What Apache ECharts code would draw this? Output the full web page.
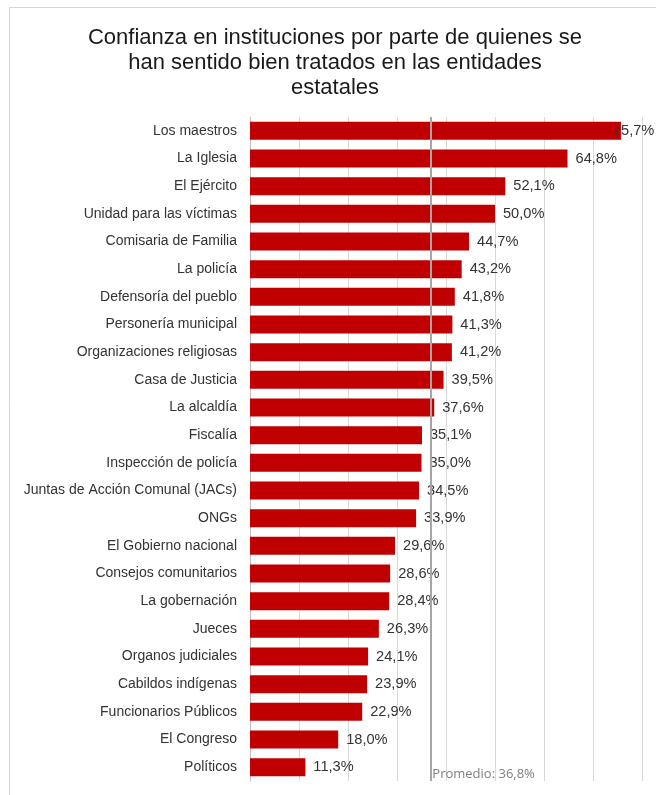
<!DOCTYPE html>
<html>
<head>
<meta charset="utf-8">
<script src="https://cdn.jsdelivr.net/npm/echarts@6/dist/echarts.min.js"></script>
<style>
html,body{margin:0;padding:0;background:#fff;}
#c{width:656px;height:795px;}
</style>
</head>
<body>
<div id="c"></div>
<script>
const titleText = 'Confianza en instituciones por parte de quienes se\nhan sentido bien tratados en las entidades\nestatales';
const categories = [
  'Los maestros','La Iglesia','El Ejército','Unidad para las víctimas','Comisaria de Familia',
  'La policía','Defensoría del pueblo','Personería municipal','Organizaciones religiosas',
  'Casa de Justicia','La alcaldía','Fiscalía','Inspección de policía',
  'Juntas de Acción Comunal (JACs)','ONGs','El Gobierno nacional','Consejos comunitarios',
  'La gobernación','Jueces','Organos judiciales','Cabildos indígenas','Funcionarios Públicos',
  'El Congreso','Políticos'
];
const values = [75.7,64.8,52.1,50.0,44.7,43.2,41.8,41.3,41.2,39.5,37.6,35.1,35.0,34.5,33.9,29.6,28.6,28.4,26.3,24.1,23.9,22.9,18.0,11.3];
const promedio = 36.8;
const promedioLabel = 'Promedio: 36,8%';

const fmt = v => v.toFixed(1).replace('.', ',') + '%';
const chart = echarts.init(document.getElementById('c'), null, {renderer: 'canvas'});
const seriesData = values.map((v, i) => i === 0
  ? {value: v, label: {offset: [-16, 0]}}
  : v);

chart.setOption({
  animation: false,
  backgroundColor: '#fff',
  title: {
    text: titleText,
    left: 330,
    textAlign: 'center',
    top: 20,
    textStyle: {fontFamily: 'Liberation Sans, Arial, sans-serif', fontSize: 22, fontWeight: 'normal', color: '#1a1a1a', lineHeight: 25}
  },
  grid: {left: 250, right: 14, top: 117, bottom: 14, containLabel: false},
  xAxis: {
    type: 'value', min: 0, max: 80, interval: 10,
    axisLabel: {show: false}, axisTick: {show: false}, axisLine: {show: false},
    splitLine: {show: true, lineStyle: {color: '#d9d9d9', width: 1}}
  },
  yAxis: {
    type: 'category', data: categories, inverse: true,
    axisLine: {show: true, lineStyle: {color: '#bfbfbf'}},
    axisTick: {show: false},
    axisLabel: {margin: 13, fontFamily: 'Liberation Sans, Arial, sans-serif', fontSize: 14, color: '#333333'}
  },
  series: [{
    type: 'bar', data: seriesData, barCategoryGap: '35%',
    itemStyle: {color: '#c00000'},
    label: {show: true, position: 'right', distance: 8, formatter: p => fmt(p.value),
      fontFamily: 'Liberation Sans, Arial, sans-serif', fontSize: 14.6, color: '#333333'},
    markLine: {
      silent: true, symbol: 'none',
      lineStyle: {color: '#a6a6a6', width: 2, type: 'solid'},
      label: {show: false},
      data: [{xAxis: promedio}]
    }
  }]
});

const px = chart.convertToPixel({xAxisIndex: 0}, promedio);
chart.setOption({
  graphic: [
    {type: 'rect', silent: true, z: -1, shape: {x: 9.5, y: 7.5, width: 700, height: 820},
      style: {fill: 'none', stroke: '#d4d4d4', lineWidth: 1}},
    {type: 'text', silent: true, x: px + 2, y: 774,
      style: {text: promedioLabel, fill: '#7f7f7f', font: '13px "Open Sans", sans-serif', textVerticalAlign: 'middle'}}
  ]
});
</script>
</body>
</html>
